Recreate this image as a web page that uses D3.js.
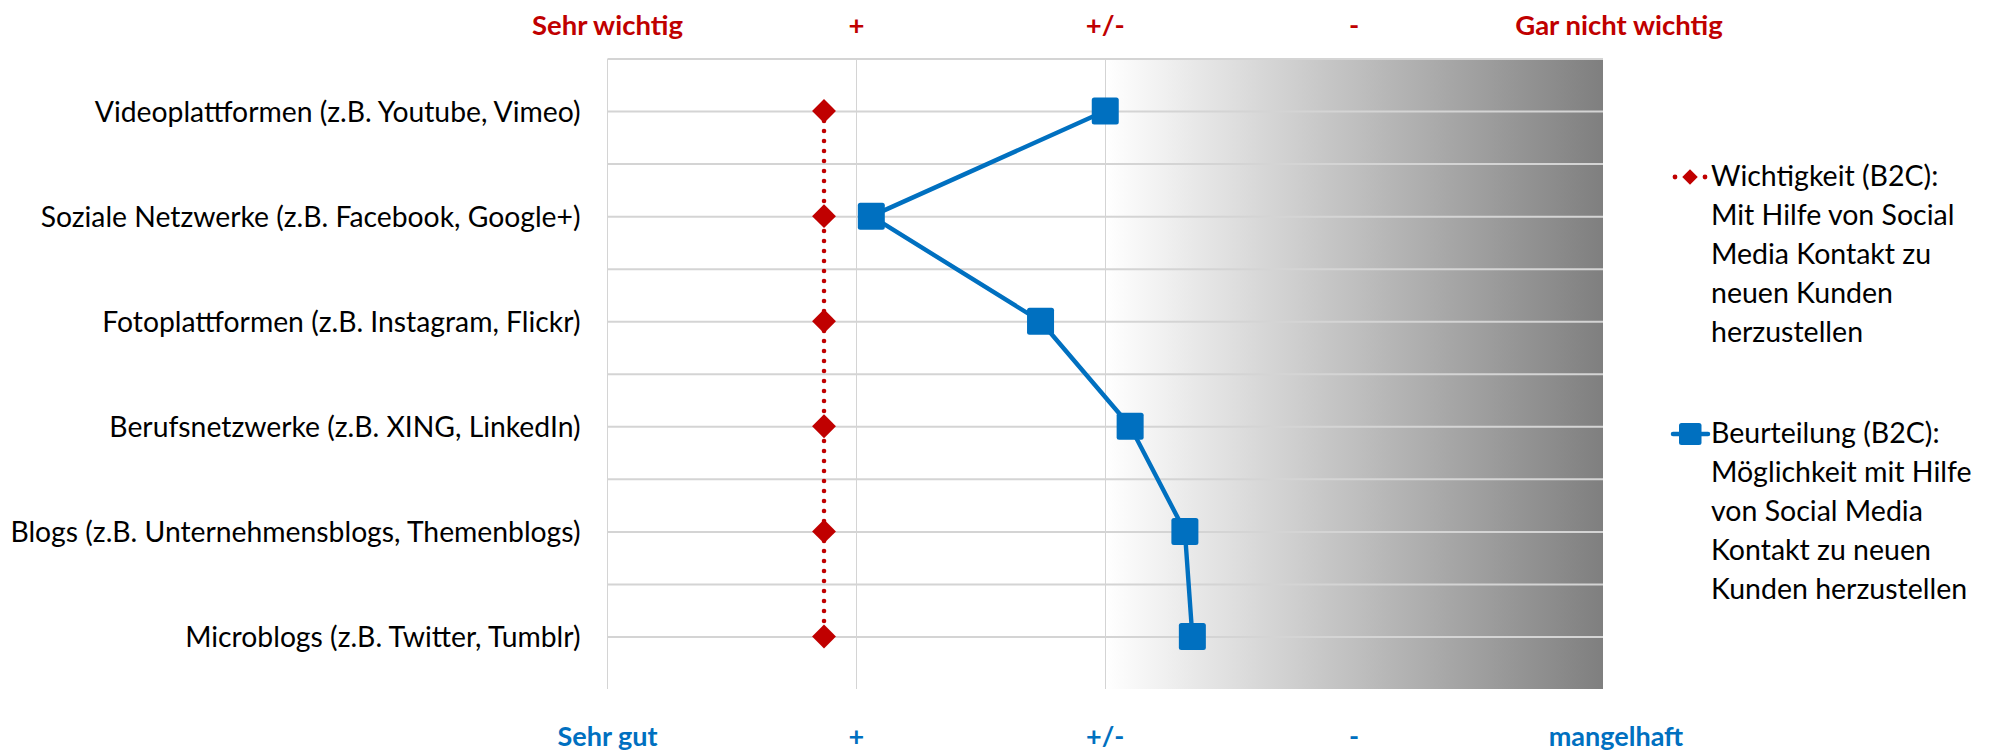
<!DOCTYPE html>
<html><head><meta charset="utf-8">
<script src="https://cdn.jsdelivr.net/npm/d3@7/dist/d3.min.js"></script>
<style>body{margin:0;background:#fff} svg{display:block;background:#fff}</style>
</head><body><svg id="c" width="1997" height="754"></svg>
<script>
const categories = [
  "Videoplattformen (z.B. Youtube, Vimeo)",
  "Soziale Netzwerke (z.B. Facebook, Google+)",
  "Fotoplattformen (z.B. Instagram, Flickr)",
  "Berufsnetzwerke (z.B. XING, LinkedIn)",
  "Blogs (z.B. Unternehmensblogs, Themenblogs)",
  "Microblogs (z.B. Twitter, Tumblr)"
];
const wichtigkeit = [1.87, 1.87, 1.87, 1.87, 1.87, 1.87];
const beurteilung = [3.00, 2.06, 2.74, 3.10, 3.32, 3.35];
const scaleValues = [1, 2, 3, 4, 5];
const topLabels = ["Sehr wichtig", "+", "+/-", "-", "Gar nicht wichtig"];
const bottomLabels = ["Sehr gut", "+", "+/-", "-", "mangelhaft"];
const legendWichtigkeit = ["Wichtigkeit (B2C):", "Mit Hilfe von Social", "Media Kontakt zu", "neuen Kunden", "herzustellen"];
const legendBeurteilung = ["Beurteilung (B2C):", "Möglichkeit mit Hilfe", "von Social Media", "Kontakt zu neuen", "Kunden herzustellen"];

const RED = "#C00000", BLUE = "#0070C0", GRID = "#d4d4d4";
const FONT = "Lato, 'Open Sans', sans-serif";
const svg = d3.select("#c");

const x = d3.scaleLinear().domain([1, 5]).range([607.5, 1603]);
const y = d3.scaleLinear().domain([0, 6]).range([58.5, 689]);
const yCat = d3.scalePoint().domain(categories).range([y(0.5), y(5.5)]);

// gradient
const defs = svg.append("defs");
const grad = defs.append("linearGradient").attr("id", "g").attr("x1", 0).attr("x2", 1).attr("y1", 0).attr("y2", 0);
grad.append("stop").attr("offset", 0).attr("stop-color", "#ffffff");
grad.append("stop").attr("offset", 1).attr("stop-color", "#7f7f7f");

// vertical gridlines (1..3)
svg.append("g").selectAll("line").data([1, 2, 3]).join("line")
  .attr("x1", d => x(d)).attr("x2", d => x(d))
  .attr("y1", y(0)).attr("y2", y(6))
  .attr("stroke", GRID).attr("stroke-width", 1.3).attr("shape-rendering", "crispEdges");

// gradient area
svg.append("rect").attr("x", x(3) + 1).attr("y", y(0)).attr("width", x(5) - x(3) - 1).attr("height", y(6) - y(0))
  .attr("fill", "url(#g)");

// horizontal gridlines
const hVals = d3.range(0, 5.51, 0.5);
svg.append("g").attr("transform", `translate(${x(1)},0)`)
  .call(d3.axisLeft(y).tickValues(hVals).tickSize(-(x(5) - x(1))).tickFormat(""))
  .call(g => g.select(".domain").remove())
  .call(g => g.selectAll("line").attr("stroke", GRID).attr("stroke-width", 2));

// category labels
svg.append("g").attr("transform", `translate(${x(1)},0)`)
  .call(d3.axisLeft(yCat).tickSize(0).tickPadding(27))
  .call(g => g.select(".domain").remove())
  .call(g => g.selectAll("text").attr("font-family", FONT).attr("font-size", 28.3).attr("fill", "#000").attr("dy", "0.36em"));

// top labels
svg.append("g").selectAll("text").data(topLabels).join("text")
  .attr("x", (d, i) => x(scaleValues[i]) + (i === 4 ? 16 : 0))
  .attr("y", 35).attr("text-anchor", "middle")
  .attr("font-family", FONT).attr("font-weight", "bold").attr("font-size", 27.5)
  .attr("fill", RED).text(d => d);

// bottom labels
svg.append("g").selectAll("text").data(bottomLabels).join("text")
  .attr("x", (d, i) => x(scaleValues[i]) + (i === 4 ? 13 : 0))
  .attr("y", 746).attr("text-anchor", "middle")
  .attr("font-family", FONT).attr("font-weight", "bold").attr("font-size", 27)
  .attr("fill", BLUE).text(d => d);

// red dotted line
const lineW = d3.line().x(d => x(d)).y((d, i) => yCat(categories[i]));
svg.append("path").datum(wichtigkeit).attr("d", lineW)
  .attr("fill", "none").attr("stroke", RED).attr("stroke-width", 4.6)
  .attr("stroke-dasharray", "0 10").attr("stroke-linecap", "round");

// blue line
svg.append("path").datum(beurteilung).attr("d", lineW)
  .attr("fill", "none").attr("stroke", BLUE).attr("stroke-width", 4.4).attr("stroke-linejoin", "round");

// diamonds
const diamond = d3.symbol().type(d3.symbolSquare).size(285);
svg.append("g").selectAll("path").data(wichtigkeit).join("path")
  .attr("d", diamond)
  .attr("transform", (d, i) => `translate(${x(d)},${yCat(categories[i])}) rotate(45)`)
  .attr("fill", RED);

// squares
const S = 27;
svg.append("g").selectAll("rect").data(beurteilung).join("rect")
  .attr("x", d => x(d) - S / 2).attr("y", (d, i) => yCat(categories[i]) - S / 2)
  .attr("width", S).attr("height", S).attr("rx", 2.5)
  .attr("fill", BLUE);

// legend
const lg = svg.append("g");
const lx = 1711, ly1 = 186, ly2 = 443, lh = 39;
// red entry
lg.append("circle").attr("cx", 1675).attr("cy", 177).attr("r", 2.4).attr("fill", RED);
lg.append("circle").attr("cx", 1705).attr("cy", 177).attr("r", 2.4).attr("fill", RED);
lg.append("path").attr("d", d3.symbol().type(d3.symbolSquare).size(120))
  .attr("transform", "translate(1690,177) rotate(45)").attr("fill", RED);
lg.append("text").attr("font-family", FONT).attr("font-size", 28.5).attr("fill", "#000")
  .selectAll("tspan").data(legendWichtigkeit).join("tspan")
  .attr("x", lx).attr("y", (d, i) => ly1 + i * lh).text(d => d);
// blue entry
lg.append("line").attr("x1", 1673).attr("x2", 1708).attr("y1", 434).attr("y2", 434)
  .attr("stroke", BLUE).attr("stroke-width", 4.5).attr("stroke-linecap", "round");
lg.append("rect").attr("x", 1679).attr("y", 423).attr("width", 22.5).attr("height", 22).attr("rx", 2.5).attr("fill", BLUE);
lg.append("text").attr("font-family", FONT).attr("font-size", 28.5).attr("fill", "#000")
  .selectAll("tspan").data(legendBeurteilung).join("tspan")
  .attr("x", lx).attr("y", (d, i) => ly2 + i * lh).text(d => d);
</script>
</body></html>
